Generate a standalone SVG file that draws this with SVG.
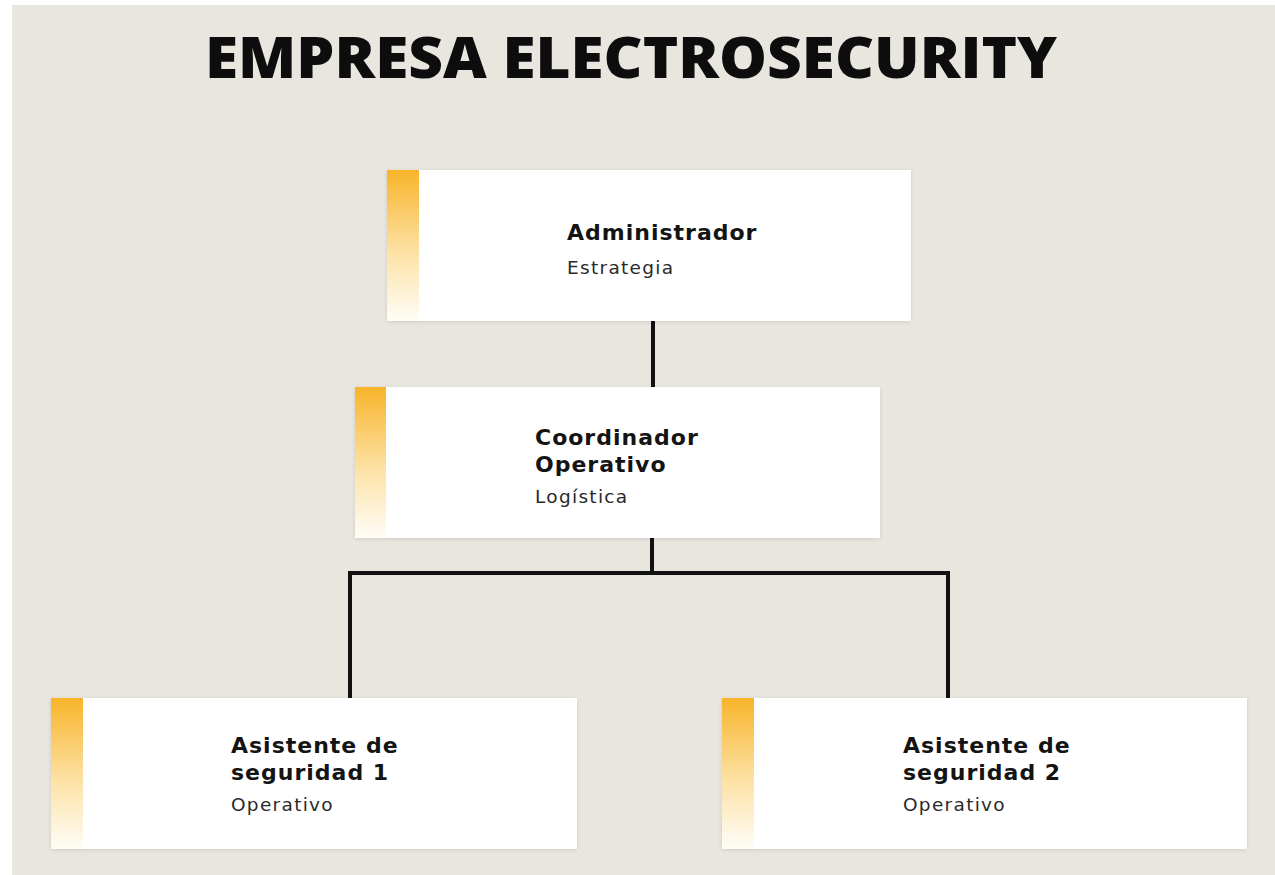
<svg xmlns="http://www.w3.org/2000/svg" width="1275" height="875" viewBox="0 0 1275 875">
<defs>
<linearGradient id="acc" x1="0" y1="0" x2="0" y2="1">
<stop offset="0" stop-color="#f8b42a"/>
<stop offset="0.55" stop-color="#fce2a6"/>
<stop offset="1" stop-color="#fffdf8"/>
</linearGradient>
<filter id="sh" x="-5%" y="-10%" width="110%" height="125%">
<feGaussianBlur in="SourceAlpha" stdDeviation="2"/>
<feOffset dx="0" dy="1"/>
<feComponentTransfer><feFuncA type="linear" slope="0.12"/></feComponentTransfer>
<feMerge><feMergeNode/><feMergeNode in="SourceGraphic"/></feMerge>
</filter>
</defs>
<style>
.box{fill:#ffffff;filter:url(#sh)}
.bar{fill:url(#acc)}
.t{font-family:"DejaVu Sans",sans-serif;font-weight:700;font-size:22px;letter-spacing:1px;fill:#141414}
.s{font-family:"DejaVu Sans",sans-serif;font-size:18.5px;letter-spacing:1.3px;fill:#2a2a2a}
.ttl{font-family:"Open Sans","DejaVu Sans",sans-serif;font-weight:800;font-size:56px;fill:#0d0d0d}
.c{fill:none;stroke:#111;stroke-width:4;stroke-linecap:square}
</style>
<rect x="0" y="0" width="1275" height="875" fill="#ffffff"/>
<rect x="12" y="5" width="1263" height="870" fill="#e9e6e0"/>
<text class="ttl" x="205" y="78" textLength="852" lengthAdjust="spacingAndGlyphs">EMPRESA ELECTROSECURITY</text>
<g id="connectors">
<path class="c" d="M653 321V387"/>
<path class="c" d="M652 538V573"/>
<path class="c" d="M350 696V573H948V696"/>
</g>
<g id="n-admin">
<rect class="box" x="387" y="170" width="524" height="151"/>
<rect class="bar" x="387" y="170" width="32" height="151"/>
<text class="t" x="567" y="240">Administrador</text>
<text class="s" x="567" y="274">Estrategia</text>
</g>
<g id="n-coord">
<rect class="box" x="355" y="387" width="525" height="151"/>
<rect class="bar" x="355" y="387" width="31" height="151"/>
<text class="t" x="535" y="445">Coordinador</text>
<text class="t" x="535" y="472">Operativo</text>
<text class="s" x="535" y="503">Logística</text>
</g>
<g id="n-asis1">
<rect class="box" x="51" y="698" width="526" height="151"/>
<rect class="bar" x="51" y="698" width="32" height="151"/>
<text class="t" x="231" y="753">Asistente de</text>
<text class="t" x="231" y="780">seguridad 1</text>
<text class="s" x="231" y="811">Operativo</text>
</g>
<g id="n-asis2">
<rect class="box" x="722" y="698" width="525" height="151"/>
<rect class="bar" x="722" y="698" width="32" height="151"/>
<text class="t" x="903" y="753">Asistente de</text>
<text class="t" x="903" y="780">seguridad 2</text>
<text class="s" x="903" y="811">Operativo</text>
</g>
</svg>
